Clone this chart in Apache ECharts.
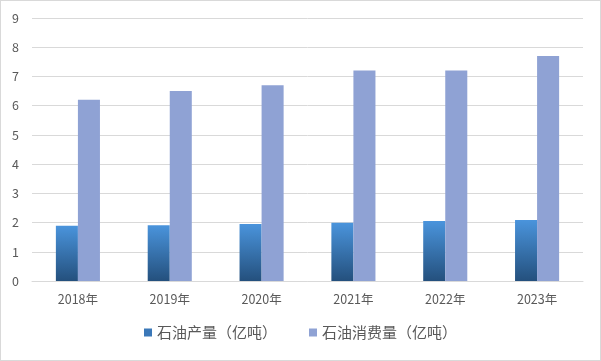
<!DOCTYPE html>
<html>
<head>
<meta charset="utf-8">
<script src="https://cdn.jsdelivr.net/npm/echarts@6/dist/echarts.min.js"></script>
<style>
html,body{margin:0;padding:0;background:#fff;}
#c{width:601px;height:361px;box-sizing:border-box;border:1px solid #d9d9d9;}
</style>
</head>
<body>
<div id="c"></div>
<script>
var categories = ['2018年','2019年','2020年','2021年','2022年','2023年'];
var production = [1.89, 1.91, 1.95, 1.99, 2.05, 2.09];
var consumption = [6.2, 6.5, 6.7, 7.2, 7.2, 7.7];
var seriesNames = ['石油产量（亿吨）', '石油消费量（亿吨）'];

var chart = echarts.init(document.getElementById('c'), null, {renderer:'canvas'});
var font = '"Microsoft YaHei","Noto Sans CJK SC","Liberation Sans",sans-serif';
chart.setOption({
  animation:false,
  textStyle:{fontFamily:font},
  grid:{left:31, right:17, top:17, bottom:79},
  legend:{
    bottom:15, left:'center',
    itemWidth:8, itemHeight:8, itemGap:32,
    textStyle:{color:'#595959', fontSize:15, fontFamily:font},
    data:[{name:seriesNames[0], icon:'rect', itemStyle:{color:'#3b78b8'}},{name:seriesNames[1], icon:'rect'}]
  },
  xAxis:{
    type:'category', data:categories,
    axisLine:{lineStyle:{color:'#d9d9d9'}},
    axisTick:{show:false},
    axisLabel:{color:'#595959', fontSize:12.5, margin:12}
  },
  yAxis:{
    type:'value', min:0, max:9, interval:1,
    axisLine:{show:false}, axisTick:{show:false},
    axisLabel:{color:'#595959', fontSize:12.5, margin:13},
    splitLine:{lineStyle:{color:'#d9d9d9'}}
  },
  series:[
    {name:seriesNames[0], type:'bar', data:production, barWidth:'24%', barGap:'0%',
     itemStyle:{color:new echarts.graphic.LinearGradient(0,0,0,1,[{offset:0,color:'#4a94dc'},{offset:1,color:'#24507d'}])}},
    {name:seriesNames[1], type:'bar', data:consumption, barWidth:'24%',
     itemStyle:{color:'#8fa2d4'}}
  ]
});
</script>
</body>
</html>
